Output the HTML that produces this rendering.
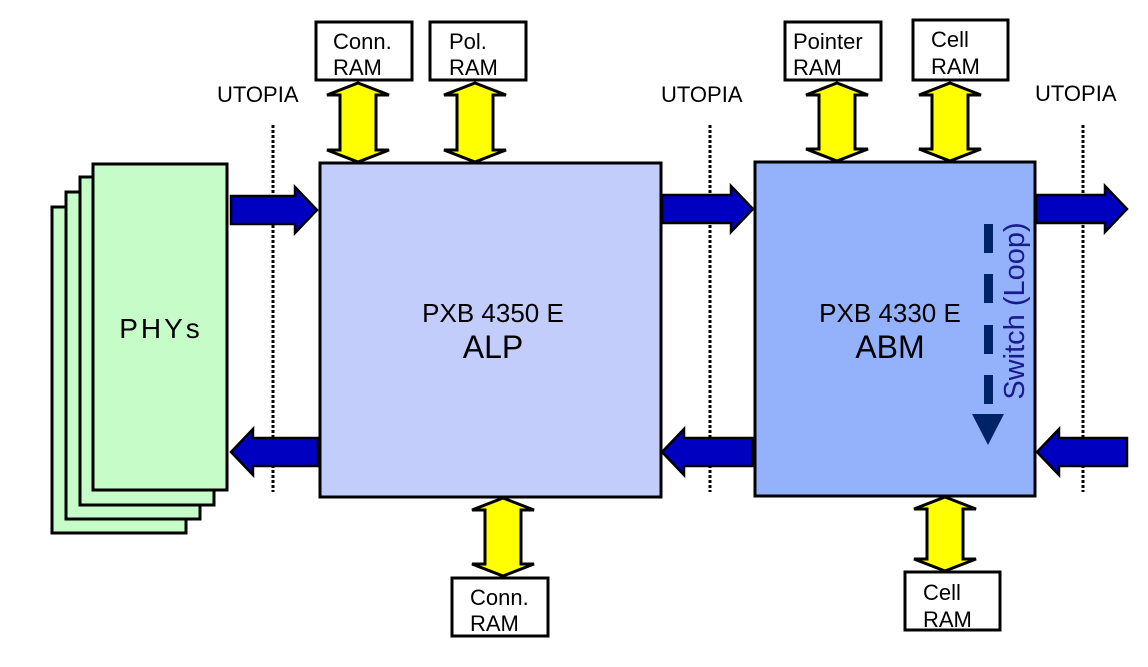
<!DOCTYPE html>
<html><head><meta charset="utf-8"><style>
html,body{margin:0;padding:0;background:#fff;width:1148px;height:667px;overflow:hidden}
svg{display:block}
text{font-family:"Liberation Sans",sans-serif}
</style></head><body>
<svg id="s" width="1148" height="667" viewBox="0 0 1148 667" xmlns="http://www.w3.org/2000/svg">
<g stroke="#000" stroke-width="3" fill="#c6fcc8">
<rect x="52" y="207" width="134" height="326"/>
<rect x="66" y="192" width="134" height="327"/>
<rect x="80" y="177" width="134" height="328"/>
<rect x="93" y="164" width="134" height="326"/>
</g>
<text x="161" y="338" font-size="28" text-anchor="middle" letter-spacing="3">PHYs</text>
<rect x="320" y="163" width="341" height="334" fill="#c3cdfc" stroke="#000" stroke-width="3"/>
<rect x="755" y="162" width="280" height="334" fill="#94b1fb" stroke="#000" stroke-width="3"/>
<text x="493" y="322" font-size="26" text-anchor="middle">PXB 4350 E</text>
<text x="493" y="358" font-size="32" text-anchor="middle">ALP</text>
<text x="890" y="322" font-size="26" text-anchor="middle">PXB 4330 E</text>
<text x="890" y="358" font-size="32" text-anchor="middle">ABM</text>
<g fill="#002266">
<rect x="984" y="224" width="9" height="29"/>
<rect x="984" y="274" width="9" height="29"/>
<rect x="984" y="325" width="9" height="29"/>
<rect x="984" y="375" width="9" height="29"/>
<polygon points="972,414 1004,414 988,445"/>
</g>
<text transform="translate(1024,311) rotate(-90)" font-size="29" fill="#1a1a8c" text-anchor="middle">Switch (Loop)</text>
<g font-size="22" fill="#000">
<text x="217" y="102">UTOPIA</text>
<text x="661" y="102">UTOPIA</text>
<text x="1035" y="101">UTOPIA</text>
</g>
<g stroke="#000" stroke-width="3" stroke-dasharray="3,2">
<line x1="273" y1="125" x2="273" y2="492"/>
<line x1="710" y1="125" x2="710" y2="492"/>
<line x1="1083" y1="125" x2="1083" y2="492"/>
</g>
<g id="arrows"></g>
<g stroke="#000" stroke-width="3" fill="#fff">
<rect x="316" y="22" width="96" height="58"/>
<rect x="430" y="22" width="96" height="58"/>
<rect x="785" y="22" width="96" height="58"/>
<rect x="913" y="20" width="95" height="60"/>
<rect x="452" y="578" width="96" height="58"/>
<rect x="905" y="572" width="95" height="58"/>
</g>
<g font-size="22" fill="#000">
<text x="333" y="49">Conn.</text><text x="333" y="75">RAM</text>
<text x="449" y="49">Pol.</text><text x="449" y="75">RAM</text>
<text x="793" y="49">Pointer</text><text x="793" y="75">RAM</text>
<text x="931" y="47">Cell</text><text x="931" y="74">RAM</text>
<text x="470" y="605">Conn.</text><text x="470" y="631">RAM</text>
<text x="923" y="600">Cell</text><text x="923" y="627">RAM</text>
</g>
</svg>
<script>
var g=document.getElementById('arrows'),h='';
function y(cx,y1,y2){var p=[[cx,y1],[cx+31,y1+12],[cx+18,y1+12],[cx+18,y2-12],[cx+31,y2-12],[cx,y2],[cx-31,y2-12],[cx-18,y2-12],[cx-18,y1+12],[cx-31,y1+12]];
h+='<polygon points="'+p.join(' ')+'" fill="#ffff00" stroke="#000" stroke-width="3"/>';}
function b(x1,x2,cy){var d=x2>x1?1:-1,hb=x2-d*22;var p=[[x1,cy-14],[hb,cy-14],[hb,cy-23],[x2,cy],[hb,cy+23],[hb,cy+14],[x1,cy+14]];
h+='<polygon points="'+p.join(' ')+'" fill="#0000c0" stroke="#000" stroke-width="2.5"/>';}
y(358,83,162);y(475,83,162);y(837,83,161);y(950,83,161);y(503,498,576);y(945,497,571);
b(231,317,210);b(318,231,452);b(662,753,209);b(753,662,452);b(1036,1127,209);b(1127,1037,452);
g.innerHTML=h;
</script>
</body></html>
